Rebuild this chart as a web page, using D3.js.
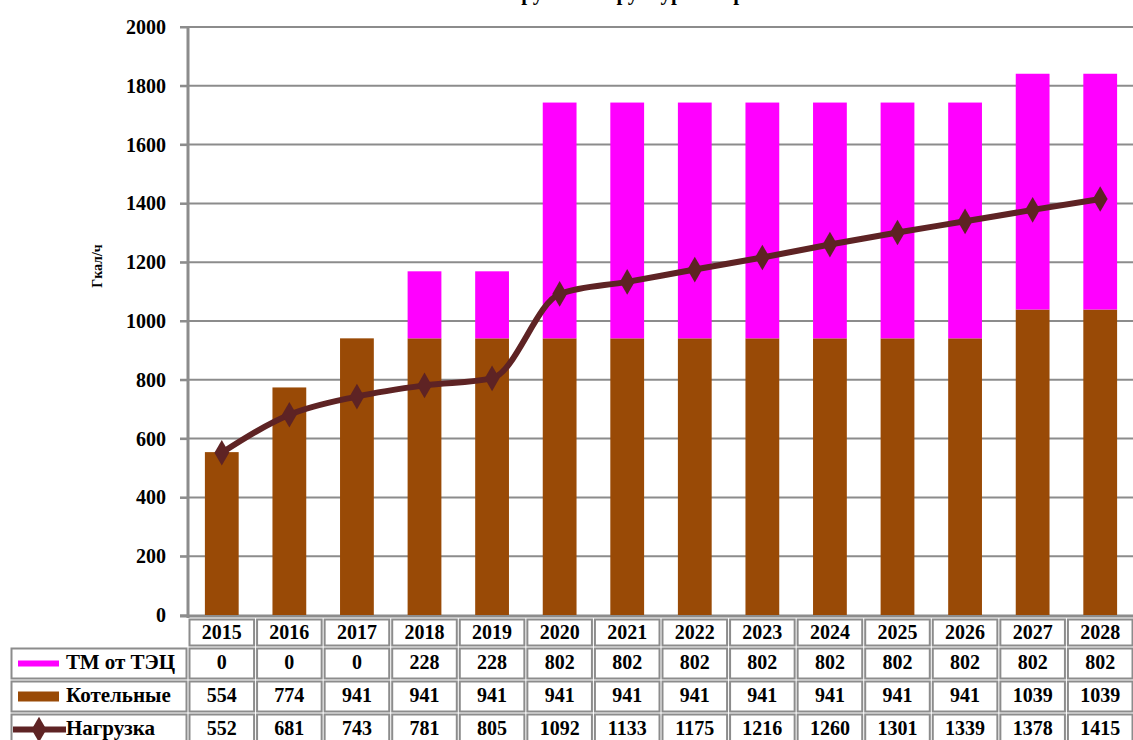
<!DOCTYPE html>
<html>
<head>
<meta charset="utf-8">
<script src="https://cdn.jsdelivr.net/npm/d3@7"></script>
<style>
  html, body { margin: 0; padding: 0; background: #fff; }
  svg text { font-family: "Times New Roman", "Liberation Serif", "DejaVu Serif", serif !important; font-weight: bold; }
</style>
</head>
<body>
<div id="chart"></div>
<script>
// data
const years = ["2015", "2016", "2017", "2018", "2019", "2020", "2021", "2022", "2023", "2024", "2025", "2026", "2027", "2028"];
const tmTec = [0, 0, 0, 228, 228, 802, 802, 802, 802, 802, 802, 802, 802, 802];
const boilers = [554, 774, 941, 941, 941, 941, 941, 941, 941, 941, 941, 941, 1039, 1039];
const load = [552, 681, 743, 781, 805, 1092, 1133, 1175, 1216, 1260, 1301, 1339, 1378, 1415];
const yTicks = [0, 200, 400, 600, 800, 1000, 1200, 1400, 1600, 1800, 2000];
const seriesNames = ["ТМ от ТЭЦ", "Котельные", "Нагрузка"];

const W = 1133, H = 740;
const colTm = "#ff00ff", colBoil = "#994a06", colLoad = "#5e2324", colGrid = "#8c8c8c";

const svg = d3.select("#chart").append("svg").attr("width", W).attr("height", H);

const x = d3.scaleBand().domain(years).range([188, 1134]).paddingInner(0.5).paddingOuter(0.25);
const y = d3.scaleLinear().domain([0, 2000]).range([615, 27]);
const step = x.step();

// title, cut off at the top edge like in the source image
svg.append("text").attr("x", 640).attr("y", 0).attr("text-anchor", "middle")
  .attr("font-size", 21).text("Нагрузка и структура покрытия");

// grid lines
svg.append("g").selectAll("line").data(yTicks.filter(d => d > 0)).join("line")
  .attr("x1", 180).attr("x2", W).attr("y1", d => y(d)).attr("y2", d => y(d))
  .attr("stroke", colGrid).attr("stroke-width", 2);

// y axis
const yAxis = svg.append("g").attr("transform", "translate(188,0)")
  .call(d3.axisLeft(y).tickValues(yTicks).tickSize(8).tickPadding(14).tickFormat(d3.format("d")));
yAxis.select(".domain").remove();
yAxis.selectAll(".tick line").attr("stroke", colGrid).attr("stroke-width", 2);
yAxis.selectAll(".tick text").attr("font-size", 20).attr("fill", "#000");
svg.append("line").attr("x1", 188).attr("x2", 188).attr("y1", 27).attr("y2", 618)
  .attr("stroke", colGrid).attr("stroke-width", 3);
svg.append("line").attr("x1", 180).attr("x2", W).attr("y1", 616).attr("y2", 616)
  .attr("stroke", colGrid).attr("stroke-width", 3);

svg.append("text").attr("transform", "translate(102,266) rotate(-90)")
  .attr("text-anchor", "middle").attr("font-size", 14).text("Гкал/ч");

// stacked bars
const stackData = years.map((yr, i) => ({ year: yr, boil: boilers[i], tm: tmTec[i] }));
const stack = d3.stack().keys(["boil", "tm"])(stackData);
const colors = { boil: colBoil, tm: colTm };
svg.append("g").selectAll("g").data(stack).join("g").attr("fill", d => colors[d.key])
  .selectAll("rect").data(d => d).join("rect")
  .attr("x", d => x(d.data.year)).attr("width", x.bandwidth())
  .attr("y", d => y(d[1])).attr("height", d => y(d[0]) - y(d[1]));

// load line
const cx = d => x(d) + x.bandwidth() / 2;
const line = d3.line().x((d, i) => cx(years[i])).y(d => y(d)).curve(d3.curveMonotoneX);
svg.append("path").datum(load).attr("d", line).attr("fill", "none")
  .attr("stroke", colLoad).attr("stroke-width", 6).attr("stroke-linejoin", "round");
const diamond = d3.symbol().type(d3.symbolDiamond).size(190);
svg.append("g").selectAll("path").data(load).join("path")
  .attr("transform", (d, i) => `translate(${cx(years[i])},${y(d)})`)
  .attr("d", diamond).attr("fill", colLoad);

// data table
const rowTop = [618, 647, 680, 713];
const rowBot = [647, 680, 713, 746];
const rows = [tmTec, boilers, load];
const tbl = svg.append("g").attr("font-size", 20);
function cell(x0, x1, y0, y1) {
  tbl.append("rect").attr("x", x0 + 1.5).attr("y", y0 + 1.5)
    .attr("width", x1 - x0 - 3).attr("height", y1 - y0 - 3)
    .attr("fill", "none").attr("stroke", colGrid).attr("stroke-width", 2);
}
years.forEach((yr, i) => {
  const x0 = x(yr) - step * 0.25, x1 = x0 + step;
  cell(x0, x1, rowTop[0], rowBot[0]);
  tbl.append("text").attr("x", (x0 + x1) / 2).attr("y", rowTop[0] + 21)
    .attr("text-anchor", "middle").text(yr);
  rows.forEach((vals, r) => {
    cell(x0, x1, rowTop[r + 1], rowBot[r + 1]);
    tbl.append("text").attr("x", (x0 + x1) / 2).attr("y", rowTop[r + 1] + 22)
      .attr("text-anchor", "middle").text(vals[i]);
  });
});
seriesNames.forEach((name, r) => {
  const y0 = rowTop[r + 1], y1 = rowBot[r + 1], ym = (y0 + y1) / 2;
  cell(10, 188, y0, y1);
  tbl.append("text").attr("x", 66).attr("y", y0 + 22).attr("font-size", 21).text(name);
  if (r === 0) {
    tbl.append("rect").attr("x", 18).attr("y", ym - 3).attr("width", 41).attr("height", 6).attr("fill", colTm);
  } else if (r === 1) {
    tbl.append("rect").attr("x", 18).attr("y", ym - 5).attr("width", 41).attr("height", 10).attr("fill", colBoil);
  } else {
    tbl.append("line").attr("x1", 13).attr("x2", 66).attr("y1", ym).attr("y2", ym)
      .attr("stroke", colLoad).attr("stroke-width", 6);
    tbl.append("path").attr("transform", `translate(39,${ym})`).attr("d", diamond).attr("fill", colLoad);
  }
});
</script>
</body>
</html>
